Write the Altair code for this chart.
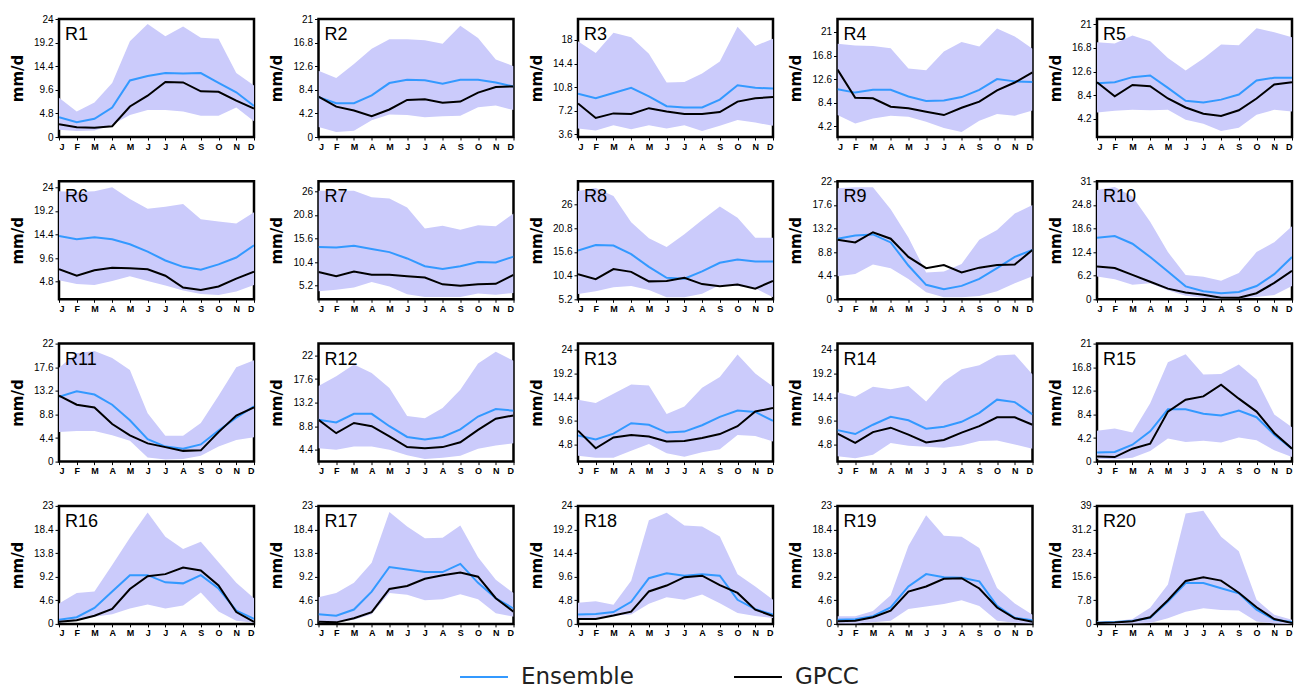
import math
import altair as alt
import pandas as pd

months = ["J", "F", "M", "A", "M", "J", "J", "A", "S", "O", "N", "D"]
regions = ["R%d" % i for i in range(1, 21)]

band_hi = {
    "R1": [8.0, 5.2, 7.0, 11.0, 19.5, 23.0, 20.5, 22.5, 20.2, 20.0, 13.0, 10.5],
    "R2": [11.8, 10.5, 13.0, 15.7, 17.4, 17.4, 17.2, 16.6, 19.8, 17.6, 13.8, 12.6],
    "R3": [17.8, 16.0, 19.1, 18.4, 15.9, 11.5, 11.6, 12.9, 14.7, 20.0, 17.1, 18.2],
    "R4": [18.9, 18.6, 18.5, 18.1, 14.5, 14.2, 17.5, 19.2, 18.4, 21.6, 20.2, 18.0],
    "R5": [17.8, 17.6, 19.0, 18.0, 15.0, 12.8, 14.9, 17.4, 17.3, 20.3, 19.6, 18.7],
    "R6": [23.2, 23.0, 23.2, 24.0, 21.6, 19.6, 20.0, 20.6, 17.5, 17.0, 16.6, 18.9],
    "R7": [26.1, 26.1, 26.1, 24.7, 24.4, 22.4, 17.8, 18.4, 17.5, 18.5, 18.3, 21.1],
    "R8": [29.0, 29.7, 27.9, 22.1, 18.6, 16.7, 19.5, 22.6, 25.6, 23.1, 18.7, 18.7],
    "R9": [20.7, 20.9, 20.9, 16.8, 11.5, 5.0, 5.2, 6.6, 11.1, 12.9, 16.0, 17.6],
    "R10": [28.7, 29.5, 27.0, 20.4, 12.4, 6.4, 5.9, 4.9, 6.9, 12.4, 15.0, 19.2],
    "R11": [17.5, 20.2, 20.6, 19.3, 17.1, 9.0, 4.8, 4.8, 7.2, 12.3, 17.6, 18.9],
    "R12": [16.3, 18.1, 20.3, 18.7, 15.9, 10.7, 10.3, 12.2, 15.6, 20.5, 22.7, 21.0],
    "R13": [13.9, 13.2, 15.1, 17.0, 16.8, 11.0, 12.5, 16.3, 18.5, 23.1, 19.2, 16.6],
    "R14": [15.4, 14.5, 16.5, 16.0, 16.7, 13.5, 17.6, 20.1, 20.9, 22.9, 23.1, 19.0],
    "R15": [5.5, 5.9, 5.2, 10.4, 17.7, 19.1, 15.5, 15.6, 17.3, 14.6, 8.4, 6.1],
    "R16": [4.0, 6.0, 6.3, 11.5, 16.8, 21.7, 17.0, 14.6, 16.0, 12.0, 8.0, 5.0],
    "R17": [5.2, 6.0, 8.0, 11.9, 21.8, 19.0, 16.7, 16.8, 19.2, 13.0, 8.6, 6.0],
    "R18": [4.3, 4.6, 3.9, 8.8, 21.1, 22.6, 20.0, 19.8, 17.8, 10.1, 7.6, 4.9],
    "R19": [1.5, 1.5, 2.5, 5.6, 15.2, 21.2, 17.2, 17.0, 14.8, 7.0, 4.0, 1.8],
    "R20": [0.8, 0.9, 1.6, 5.3, 13.0, 36.5, 37.4, 28.8, 24.0, 8.0, 3.0, 1.4],
}

band_lo = {
    "R1": [1.5, 1.2, 1.3, 2.5, 4.5, 5.5, 5.5, 5.2, 4.3, 4.3, 6.0, 3.2],
    "R2": [1.8, 0.9, 1.1, 3.0, 4.0, 3.9, 3.5, 3.7, 3.8, 5.3, 5.6, 4.8],
    "R3": [4.5, 4.2, 5.0, 4.4, 5.0, 4.5, 5.0, 4.1, 4.9, 5.8, 5.4, 4.9],
    "R4": [6.2, 4.7, 5.6, 6.1, 5.9, 5.0, 3.9, 3.2, 5.2, 6.4, 6.1, 7.0],
    "R5": [5.3, 5.6, 5.8, 5.7, 5.8, 4.0, 3.3, 2.0, 2.6, 4.9, 5.8, 5.5],
    "R6": [5.1, 4.3, 4.1, 4.9, 5.9, 4.9, 4.0, 3.0, 2.3, 2.1, 2.8, 4.1],
    "R7": [4.0, 4.3, 4.8, 6.0, 5.0, 3.3, 2.7, 2.7, 2.7, 3.5, 3.2, 3.6],
    "R8": [6.3, 6.9, 7.8, 8.1, 7.2, 5.6, 5.6, 6.4, 8.3, 8.1, 7.6, 5.6],
    "R9": [4.3, 4.7, 6.5, 5.8, 3.8, 1.3, 0.4, 0.4, 0.6, 1.5, 3.0, 4.3],
    "R10": [6.0, 5.3, 3.8, 4.2, 2.4, 0.9, 0.4, 0.1, 0.2, 0.6, 1.15, 3.5],
    "R11": [5.5, 5.7, 5.7, 4.9, 3.9, 0.75, 0.4, 0.5, 1.1, 2.8, 4.05, 4.55],
    "R12": [4.7, 4.4, 5.0, 5.0, 4.4, 3.4, 2.7, 2.9, 3.3, 4.6, 5.2, 5.6],
    "R13": [2.5, 2.1, 2.1, 3.5, 4.9, 3.0, 2.3, 3.2, 3.8, 6.7, 6.5, 5.4],
    "R14": [2.4, 2.0, 2.7, 5.1, 4.5, 4.3, 4.1, 4.6, 5.5, 5.6, 4.8, 3.9],
    "R15": [0.5, 0.4, 0.7, 1.9, 4.1, 3.5, 3.7, 3.4, 4.3, 3.8, 2.0, 0.8],
    "R16": [0.2, 0.6, 1.4, 1.9, 3.0, 3.8, 3.0, 3.6, 6.1, 2.4, 0.6, 0.2],
    "R17": [0.3, 0.3, 0.8, 1.9, 6.0, 5.7, 4.6, 4.8, 5.8, 4.8, 2.1, 1.4],
    "R18": [1.2, 1.2, 1.7, 1.9, 4.1, 5.4, 4.9, 6.0, 4.2, 2.2, 1.6, 1.2],
    "R19": [0.1, 0.1, 0.3, 0.6, 2.9, 3.4, 3.9, 4.6, 3.5, 0.6, 0.2, 0.1],
    "R20": [0.0, 0.0, 0.1, 0.3, 1.9, 4.0, 5.2, 4.6, 4.4, 0.8, 0.1, 0.0],
}

ens = {
    "R1": [4.0, 3.0, 3.7, 6.0, 11.5, 12.4, 13.0, 12.9, 13.0, 11.0, 9.1, 6.3],
    "R2": [7.1, 6.0, 6.0, 7.4, 9.6, 10.2, 10.1, 9.5, 10.2, 10.2, 9.7, 9.0],
    "R3": [9.8, 9.1, 9.9, 10.7, 9.4, 7.9, 7.7, 7.7, 8.9, 11.1, 10.7, 10.6],
    "R4": [10.8, 10.2, 10.7, 10.7, 9.5, 8.7, 8.8, 9.4, 10.7, 12.6, 12.2, 12.1],
    "R5": [10.5, 10.7, 11.6, 11.9, 9.7, 7.4, 7.1, 7.6, 8.5, 11.0, 11.5, 11.5],
    "R6": [14.1, 13.4, 13.8, 13.4, 12.4, 10.9, 9.1, 7.8, 7.2, 8.3, 9.7, 12.2],
    "R7": [13.7, 13.6, 14.0, 13.3, 12.6, 11.2, 9.5, 8.9, 9.5, 10.4, 10.3, 11.6],
    "R8": [15.9, 17.1, 17.0, 15.1, 12.3, 9.9, 9.7, 11.3, 13.2, 13.9, 13.5, 13.5],
    "R9": [11.3, 11.9, 12.1, 10.6, 6.3, 2.7, 1.9, 2.5, 3.8, 5.8, 7.9, 9.2],
    "R10": [16.2, 16.6, 14.6, 11.1, 7.3, 3.4, 2.1, 1.6, 1.9, 3.5, 6.6, 11.1],
    "R11": [12.1, 13.1, 12.5, 10.6, 7.7, 4.2, 2.8, 2.4, 3.2, 5.8, 8.2, 10.3],
    "R12": [10.0, 9.5, 11.1, 11.1, 8.8, 6.8, 6.3, 6.8, 8.2, 10.6, 12.0, 11.7],
    "R13": [6.6, 5.8, 7.0, 9.1, 8.8, 7.2, 7.4, 8.7, 10.4, 11.7, 11.4, 9.6],
    "R14": [7.7, 6.9, 8.8, 10.4, 9.7, 8.0, 8.4, 9.4, 11.2, 13.9, 13.4, 10.9],
    "R15": [1.6, 1.7, 3.0, 5.4, 9.3, 9.3, 8.5, 8.2, 9.1, 7.9, 4.8, 2.3],
    "R16": [0.8, 1.3, 3.1, 6.3, 9.5, 9.5, 8.1, 7.9, 9.5, 6.9, 2.6, 1.0],
    "R17": [1.9, 1.6, 2.8, 6.3, 11.1, 10.6, 10.1, 10.1, 11.7, 8.0, 5.0, 3.0],
    "R18": [1.9, 2.0, 2.4, 4.5, 9.3, 10.3, 9.8, 10.1, 9.8, 4.9, 3.0, 1.9],
    "R19": [0.8, 0.9, 1.5, 3.2, 7.3, 9.7, 9.1, 9.0, 8.3, 3.5, 1.2, 0.7],
    "R20": [0.4, 0.6, 1.0, 2.0, 7.4, 13.5, 13.5, 11.8, 10.1, 4.7, 1.4, 0.6],
}

gpcc = {
    "R1": [2.6, 2.0, 1.9, 2.2, 6.2, 8.4, 11.2, 11.1, 9.3, 9.2, 7.4, 5.8],
    "R2": [7.2, 5.4, 4.7, 3.7, 4.9, 6.6, 6.7, 6.1, 6.3, 7.9, 8.9, 9.0],
    "R3": [8.3, 6.1, 6.8, 6.7, 7.6, 7.1, 6.7, 6.7, 7.0, 8.6, 9.1, 9.3],
    "R4": [14.3, 9.3, 9.2, 7.7, 7.4, 6.8, 6.2, 7.5, 8.6, 10.6, 12.0, 13.8],
    "R5": [10.7, 8.2, 10.2, 10.0, 7.8, 6.2, 5.1, 4.7, 5.7, 7.8, 10.3, 10.7],
    "R6": [7.3, 6.0, 7.1, 7.6, 7.5, 7.3, 6.0, 3.6, 3.1, 3.8, 5.4, 6.8],
    "R7": [8.2, 7.3, 8.3, 7.6, 7.6, 7.3, 7.0, 5.5, 5.2, 5.5, 5.6, 7.6],
    "R8": [10.7, 9.6, 11.8, 11.2, 9.1, 9.2, 9.9, 8.5, 8.0, 8.4, 7.5, 9.2],
    "R9": [11.1, 10.6, 12.5, 11.3, 7.9, 5.8, 6.4, 5.0, 5.9, 6.4, 6.5, 9.2],
    "R10": [8.6, 8.2, 6.4, 4.6, 2.8, 1.8, 1.2, 0.4, 0.4, 1.6, 4.3, 7.5],
    "R11": [12.3, 10.6, 10.1, 7.0, 4.9, 3.4, 2.7, 2.0, 2.1, 5.5, 8.6, 10.1],
    "R12": [10.0, 7.5, 9.4, 8.8, 6.9, 4.9, 4.7, 4.9, 5.8, 8.1, 10.2, 10.8],
    "R13": [7.6, 4.0, 6.2, 6.7, 6.4, 5.4, 5.5, 6.1, 6.9, 8.5, 11.5, 12.2],
    "R14": [7.0, 5.1, 7.3, 8.2, 6.8, 5.2, 5.7, 7.2, 8.5, 10.3, 10.3, 8.8],
    "R15": [0.9, 0.8, 2.3, 3.2, 8.9, 11.0, 11.6, 13.7, 11.2, 8.9, 5.1, 2.3],
    "R16": [0.4, 0.7, 1.6, 2.9, 6.8, 9.3, 9.7, 11.0, 10.4, 7.5, 2.3, 0.4],
    "R17": [0.4, 0.3, 1.1, 2.3, 6.8, 7.4, 8.8, 9.5, 10.0, 9.2, 5.0, 2.4],
    "R18": [1.0, 1.0, 1.7, 2.5, 6.6, 7.8, 9.5, 9.8, 7.9, 6.3, 2.9, 1.6],
    "R19": [0.5, 0.6, 1.3, 2.6, 6.3, 7.3, 8.8, 8.9, 6.9, 3.2, 1.1, 0.4],
    "R20": [0.3, 0.5, 0.9, 2.2, 7.8, 14.2, 15.4, 14.3, 10.3, 5.5, 1.6, 0.3],
}

y_domain = {
    "R1": (0, 24), "R2": (0, 21), "R3": (3.2, 21.2), "R4": (2.3, 23.3), "R5": (0.95, 21.95),
    "R6": (1.2, 25.2), "R7": (2.2, 28.2), "R8": (5.15, 31.15), "R9": (0, 22), "R10": (0, 31),
    "R11": (0, 22), "R12": (2.2, 24.2), "R13": (1.3, 25.3), "R14": (1.3, 25.3), "R15": (0, 21),
    "R16": (0, 23), "R17": (0, 23), "R18": (0, 24), "R19": (0, 23), "R20": (0, 39),
}

series_names = ["Ensemble", "GPCC"]
series_colors = ["#3399ff", "#000000"]
band_color = "#cbcbfb"

W, H = 195, 118
month_expr = "[" + ",".join("'%s'" % m for m in months) + "][datum.value]"


def ticks_for(lo, hi):
    step = (hi - lo) / 5.0
    k0 = math.ceil(lo / step - 1e-6)
    k1 = math.floor(hi / step + 1e-6)
    return [round(k * step, 3) for k in range(k0, k1 + 1)]


panels = []
for r in regions:
    lo, hi = y_domain[r]
    yscale = alt.Scale(domain=[lo, hi], nice=False, zero=False)
    xscale = alt.Scale(domain=[0, 11], nice=False)
    xaxis = alt.Axis(values=list(range(12)), labelExpr=month_expr, title=None)
    yaxis = alt.Axis(values=ticks_for(lo, hi), title="mm/d", labelExpr="'' + datum.value")

    band_df = pd.DataFrame({"m": list(range(12)), "lo": band_lo[r], "hi": band_hi[r]})
    rows = []
    for name, src in zip(series_names, [ens, gpcc]):
        for i, v in enumerate(src[r]):
            rows.append({"m": i, "v": v, "series": name})
    line_df = pd.DataFrame(rows)

    band = alt.Chart(band_df).mark_area(color=band_color, opacity=1, clip=True).encode(
        x=alt.X("m:Q", scale=xscale, axis=xaxis),
        y=alt.Y("lo:Q", scale=yscale, axis=yaxis),
        y2="hi:Q",
    )
    lines = alt.Chart(line_df).mark_line(strokeWidth=2, clip=True).encode(
        x=alt.X("m:Q", scale=xscale, axis=xaxis),
        y=alt.Y("v:Q", scale=yscale, axis=yaxis),
        color=alt.Color(
            "series:N",
            scale=alt.Scale(domain=series_names, range=series_colors),
            legend=alt.Legend(
                title=None, orient="none", direction="horizontal",
                legendX=400, legendY=633,
                symbolType="stroke", symbolStrokeWidth=2, symbolSize=2300,
                labelFontSize=23, labelFont="DejaVu Sans", labelColor="#222222",
                labelOffset=12, columnPadding=96, labelLimit=400,
            ),
        ),
        detail="series:N",
    )
    label = alt.Chart(pd.DataFrame({"t": [r]})).mark_text(
        align="left", baseline="alphabetic", fontSize=18, font="Liberation Sans", color="black"
    ).encode(x=alt.value(6), y=alt.value(21), text="t:N")

    panels.append(alt.layer(band, lines, label).properties(width=W, height=H))

chart = alt.concat(
    *panels, columns=5, spacing={"row": 44.3, "column": 64.5}, bounds="flush"
).properties(
    padding={"left": 0, "top": 4, "right": 2, "bottom": 0}
).configure_view(
    stroke="black", strokeWidth=2.5
).configure_axis(
    grid=False, domain=False, tickColor="black", labelColor="black",
    labelFont="Liberation Sans",
).configure_axisX(
    labelFontSize=9, tickSize=3, labelPadding=2, labelFontWeight="bold",
).configure_axisY(
    labelFontSize=10, tickSize=4, labelPadding=2,
    titleFont="DejaVu Sans", titleFontSize=15, titleFontWeight="bold",
    titleX=-42, titleY=H / 2, titleAngle=270, titleAlign="center", titleBaseline="middle",
)

chart.save("out.html", embed_options={"renderer": "svg", "actions": False})
